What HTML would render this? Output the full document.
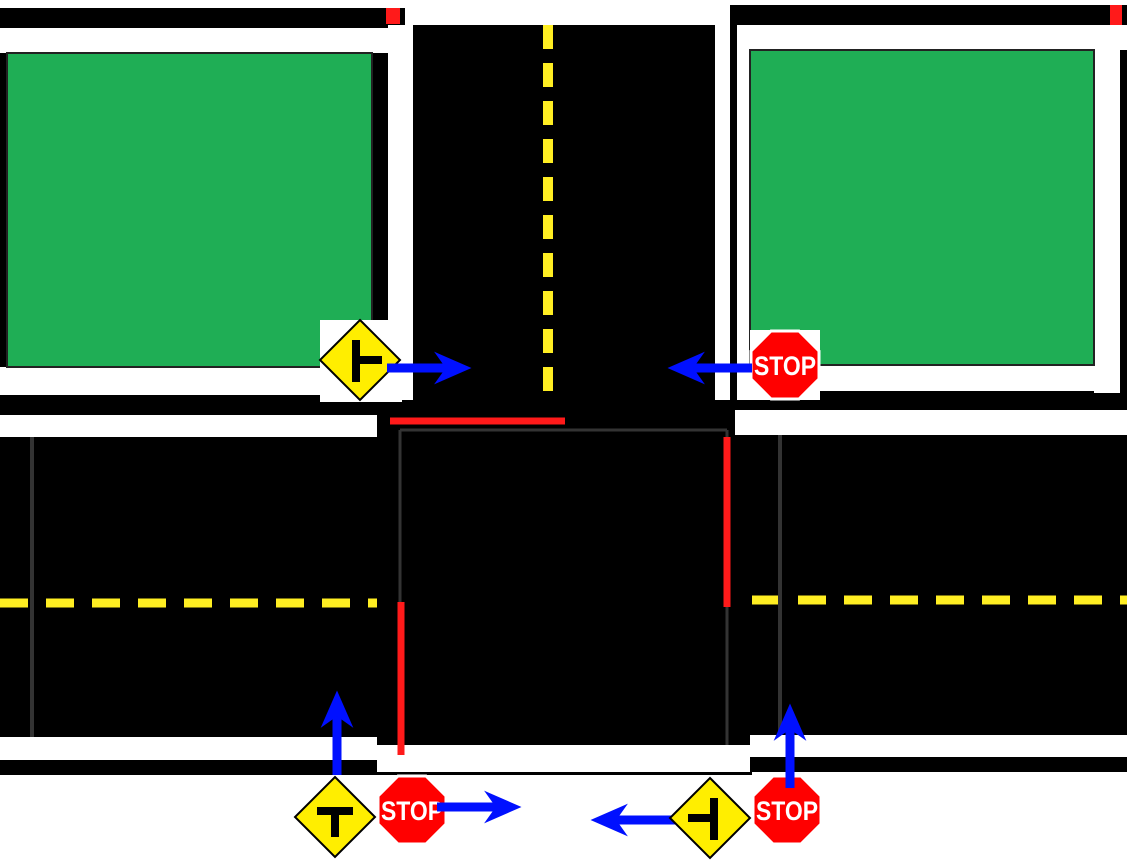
<!DOCTYPE html>
<html><head><meta charset="utf-8"><style>
html,body{margin:0;padding:0;background:#fff;width:1127px;height:865px;overflow:hidden}
svg{display:block}
text{font-family:"Liberation Sans",sans-serif}
</style></head><body>
<svg width="1127" height="865" viewBox="0 0 1127 865">
<defs>
<g id="arrowR"><line x1="0" y1="0" x2="62" y2="0" stroke="#0010ff" stroke-width="9"/><polygon points="50,-14 82,0 50,14 60,0" fill="#0010ff" stroke="#0010ff" stroke-width="2"/></g>
<g id="stop"><polygon points="-14,-34 14,-34 34,-14 34,14 14,34 -14,34 -34,14 -34,-14" fill="#ff0000" stroke="#fff" stroke-width="3"/><text x="0" y="10" text-anchor="middle" fill="#fff" font-size="27" font-weight="bold" transform="scale(0.85,1)">STOP</text></g>
<g id="diamond"><polygon points="0,-40 40,0 0,40 -40,0" fill="#ffee00" stroke="#000" stroke-width="2"/></g>
</defs>
<g>
<rect x="0" y="8" width="405" height="395" fill="#000"/>
<rect x="0" y="28" width="395" height="25" fill="#fff"/>
<rect x="388" y="25" width="25" height="378" fill="#fff"/>
<rect x="0" y="367" width="395" height="28" fill="#fff"/>
<rect x="7" y="53" width="365" height="314" fill="#1fae55" stroke="#222" stroke-width="2"/>
<rect x="386" y="8" width="14" height="16" fill="#ff1a1a"/>
</g>
<g>
<rect x="413" y="25" width="305" height="380" fill="#000"/>
<line x1="548" y1="25" x2="548" y2="398" stroke="#ffee22" stroke-width="10" stroke-dasharray="24,14"/>
<rect x="715" y="25" width="22" height="378" fill="#fff"/>
</g>
<g>
<rect x="730" y="5" width="397" height="398" fill="#000"/>
<rect x="737" y="25" width="390" height="25" fill="#fff"/>
<rect x="737" y="25" width="13" height="375" fill="#fff"/>
<rect x="737" y="365" width="383" height="26" fill="#fff"/>
<rect x="1094" y="25" width="26" height="368" fill="#fff"/>
<rect x="750" y="50" width="344" height="315" fill="#1fae55" stroke="#222" stroke-width="2"/>
<rect x="1110" y="5" width="12" height="20" fill="#ff1a1a"/>
</g>
<g>
<rect x="0" y="403" width="380" height="372" fill="#000"/>
<rect x="0" y="415" width="380" height="22" fill="#fff"/>
<rect x="0" y="737" width="380" height="23" fill="#fff"/>
<line x1="0" y1="603" x2="378" y2="603" stroke="#ffee22" stroke-width="9" stroke-dasharray="28,18"/>
<line x1="32" y1="437" x2="32" y2="737" stroke="#333" stroke-width="4"/>
</g>
<g>
<rect x="377" y="400" width="375" height="375" fill="#000"/>
<rect x="377" y="745" width="375" height="27" fill="#fff"/>
<line x1="400" y1="430" x2="727" y2="430" stroke="#333" stroke-width="3"/>
<line x1="400" y1="430" x2="400" y2="745" stroke="#333" stroke-width="3"/>
<line x1="727" y1="430" x2="727" y2="745" stroke="#333" stroke-width="3"/>
<line x1="390" y1="421" x2="565" y2="421" stroke="#ff1a1a" stroke-width="7"/>
<line x1="401" y1="602" x2="401" y2="755" stroke="#ff1a1a" stroke-width="7"/>
<line x1="727" y1="437" x2="727" y2="607" stroke="#ff1a1a" stroke-width="7"/>
</g>
<g>
<rect x="750" y="400" width="377" height="372" fill="#000"/>
<rect x="735" y="410" width="392" height="25" fill="#fff"/>
<rect x="750" y="735" width="377" height="22" fill="#fff"/>
<line x1="752" y1="600" x2="1127" y2="600" stroke="#ffee22" stroke-width="9" stroke-dasharray="28,18"/>
<line x1="780" y1="435" x2="780" y2="735" stroke="#333" stroke-width="4"/>
</g>
<rect x="320" y="320" width="82" height="82" fill="#fff"/>
<g transform="translate(360,360)"><use href="#diamond"/><rect x="-8" y="-20" width="8" height="42" fill="#000"/><rect x="0" y="-4" width="22" height="8" fill="#000"/></g>
<use href="#arrowR" transform="translate(387,368)"/>
<rect x="750" y="330" width="70" height="70" fill="#fff"/>
<use href="#stop" transform="translate(785,365)"/>
<use href="#arrowR" transform="translate(752,368) scale(-1,1)"/>
<g transform="translate(335,817)"><use href="#diamond"/><rect x="-18" y="-10" width="36" height="8" fill="#000"/><rect x="-4" y="-10" width="8" height="30" fill="#000"/></g>
<use href="#arrowR" transform="translate(337,775) rotate(-90)"/>
<use href="#stop" transform="translate(412,810)"/>
<use href="#arrowR" transform="translate(437,807)"/>
<use href="#arrowR" transform="translate(675,820) scale(-1,1)"/>
<g transform="translate(710,818)"><use href="#diamond"/><rect x="0" y="-20" width="8" height="42" fill="#000"/><rect x="-22" y="-4" width="22" height="8" fill="#000"/></g>
<use href="#stop" transform="translate(787,810)"/>
<use href="#arrowR" transform="translate(790,788) rotate(-90)"/>
</svg>
</body></html>
